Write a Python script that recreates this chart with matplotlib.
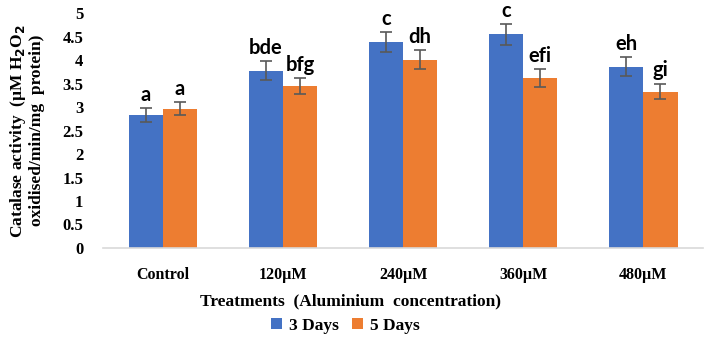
import matplotlib
matplotlib.use("Agg")
import matplotlib.pyplot as plt
import numpy as np

categories = ["Control", "120\u00b5M", "240\u00b5M", "360\u00b5M", "480\u00b5M"]
series_names = ["3 Days", "5 Days"]
days3 = [2.83, 3.77, 4.39, 4.55, 3.86]
days5 = [2.96, 3.45, 4.01, 3.61, 3.33]
err3 = [0.14, 0.20, 0.21, 0.22, 0.20]
err5 = [0.14, 0.17, 0.20, 0.19, 0.17]
letters3 = ["a", "bde", "c", "c", "eh"]
letters5 = ["a", "bfg", "dh", "efi", "gi"]
yticks = [0, 0.5, 1, 1.5, 2, 2.5, 3, 3.5, 4, 4.5, 5]

serif = ["Liberation Serif", "DejaVu Serif"]
sans = ["Lato", "DejaVu Sans"]

fig = plt.figure(figsize=(7.09, 3.43), dpi=100)
ax = fig.add_axes([0.145, 0.277, 0.847, 0.685])

x = np.arange(len(categories))
w = 0.285
colors = ["#4472C4", "#ED7D31"]
ekw = dict(ecolor="#595959", elinewidth=1.2, capsize=4, capthick=1.2)
b1 = ax.bar(x - w/2, days3, w, color=colors[0], yerr=err3, error_kw=ekw, label=series_names[0])
b2 = ax.bar(x + w/2, days5, w, color=colors[1], yerr=err5, error_kw=ekw, label=series_names[1])

for xi, v, e, t in zip(x - w/2, days3, err3, letters3):
    ax.text(xi, v + e + 0.07, t, ha="center", va="bottom", fontsize=14.5, fontweight="bold", family=sans)
for xi, v, e, t in zip(x + w/2, days5, err5, letters5):
    ax.text(xi, v + e + 0.07, t, ha="center", va="bottom", fontsize=14.5, fontweight="bold", family=sans)

ax.set_xlim(-0.5, len(categories) - 0.5)
ax.set_ylim(0, 5)
ax.set_yticks(yticks)
ax.set_yticklabels([f"{t:g}" for t in yticks], family=serif, fontweight="bold", fontsize=12)
ax.set_xticks(x)
ax.set_xticklabels(categories, family=serif, fontweight="bold", fontsize=11.5)
ax.tick_params(axis="x", length=0, pad=14)
ax.tick_params(axis="y", length=0, pad=14)
for s in ["top", "right", "left"]:
    ax.spines[s].set_visible(False)
ax.spines["bottom"].set_color("#d9d9d9")
ax.spines["bottom"].set_linewidth(1.2)

ax.set_xlabel("Treatments  (Aluminium  concentration)", family=serif, fontweight="bold", fontsize=12.5)
ax.xaxis.set_label_coords(0.412, -0.195)
ax.set_ylabel("Catalase activity  (\u00b5M H$_\\mathbf{2}$O$_\\mathbf{2}$\noxidised/min/mg  protein)",
              family=serif, fontweight="bold", fontsize=12.5, linespacing=1.05)
ax.yaxis.set_label_coords(-0.097, 0.5)

leg = fig.legend(handles=[b1, b2], labels=series_names, loc="center", bbox_to_anchor=(0.487, 0.05),
                 ncol=2, frameon=False, prop={"family": serif, "weight": "bold", "size": 12.5},
                 handlelength=0.6, handleheight=0.6, handletextpad=0.4, columnspacing=0.8)

fig.savefig("out.png", dpi=100)
